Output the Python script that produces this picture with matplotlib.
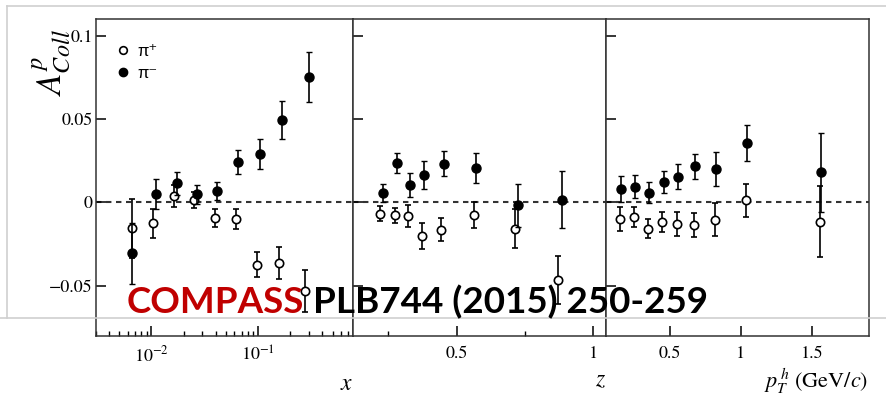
import numpy as np
import matplotlib.pyplot as plt
from matplotlib.lines import Line2D
from matplotlib.ticker import MultipleLocator, FixedLocator, FuncFormatter, NullLocator

plt.rcParams['font.family'] = 'STIXGeneral'
plt.rcParams['mathtext.fontset'] = 'stix'

# --- x binning ---
x_pip = [0.0065, 0.0104, 0.0161, 0.025, 0.0393, 0.0618, 0.0985, 0.158, 0.277]
a_pip_x = [-0.0156, -0.0126, 0.0038, 0.0014, -0.0094, -0.0102, -0.0374, -0.0362, -0.0532]
e_pip_x = [0.0176, 0.0085, 0.0064, 0.005, 0.0052, 0.006, 0.0076, 0.0097, 0.0127]
x_pim = [0.0066, 0.011, 0.0172, 0.0269, 0.041, 0.0644, 0.1035, 0.166, 0.297]
a_pim_x = [-0.0306, 0.0048, 0.0114, 0.0048, 0.0068, 0.0244, 0.029, 0.0492, 0.0752]
e_pim_x = [0.0184, 0.009, 0.007, 0.0056, 0.0056, 0.0072, 0.0088, 0.0114, 0.0152]

# --- z binning ---
z_pip = [0.22, 0.273, 0.323, 0.372, 0.443, 0.562, 0.712, 0.872]
a_pip_z = [-0.0068, -0.0078, -0.0084, -0.0204, -0.0164, -0.0074, -0.0158, -0.0466]
e_pip_z = [0.0045, 0.0045, 0.0066, 0.0078, 0.0068, 0.0078, 0.0115, 0.0146]
z_pim = [0.231, 0.282, 0.33, 0.381, 0.452, 0.571, 0.723, 0.884]
a_pim_z = [0.0054, 0.0236, 0.0104, 0.0162, 0.0232, 0.0206, -0.0018, 0.0016]
e_pim_z = [0.0054, 0.006, 0.0072, 0.0084, 0.0076, 0.0088, 0.013, 0.017]

# --- pT binning ---
pt_pip = [0.148, 0.247, 0.347, 0.446, 0.547, 0.669, 0.817, 1.035, 1.556]
a_pip_pt = [-0.0098, -0.009, -0.0158, -0.0118, -0.013, -0.0136, -0.0104, 0.0012, -0.0116]
e_pip_pt = [0.0072, 0.006, 0.0058, 0.006, 0.007, 0.007, 0.0098, 0.0098, 0.0214]
pt_pim = [0.155, 0.254, 0.354, 0.456, 0.556, 0.676, 0.824, 1.044, 1.566]
a_pim_pt = [0.008, 0.0094, 0.0058, 0.012, 0.0154, 0.0216, 0.020, 0.0356, 0.018]
e_pim_pt = [0.008, 0.0068, 0.0062, 0.0066, 0.0076, 0.0074, 0.0102, 0.0108, 0.0236]

W, H = 887, 415
fig = plt.figure(figsize=(W / 100, H / 100), dpi=100)

def fx(px):
    return px / W

def fy(py):
    return 1 - py / H

bottom, top = fy(336), fy(19)
ax1 = fig.add_axes([fx(95.7), bottom, fx(353.3 - 95.7), top - bottom])
ax2 = fig.add_axes([fx(353.3), bottom, fx(606 - 353.3), top - bottom])
ax3 = fig.add_axes([fx(606), bottom, fx(868.7 - 606), top - bottom])

def draw(ax, xp, ap, ep, xm, am, em):
    ax.axhline(0, color='#333333', lw=1.5, ls=(0, (2.6, 2.2)), zorder=1)
    ax.errorbar(xp, ap, yerr=ep, fmt='o', ms=6, mfc='white', mec='black', mew=1.2,
                ecolor='black', elinewidth=1.2, capsize=2, capthick=1, zorder=3)
    ax.errorbar(xm, am, yerr=em, fmt='o', ms=6.5, mfc='black', mec='black',
                ecolor='black', elinewidth=1.2, capsize=2, capthick=1, zorder=4)
    ax.set_ylim(-0.0802, 0.11)
    ax.yaxis.set_major_locator(FixedLocator([-0.05, 0, 0.05, 0.1]))
    ax.yaxis.set_minor_locator(NullLocator())
    ax.tick_params(axis='both', which='major', direction='in', length=7, width=1.1,
                   labelsize=13, top=False, right=False)
    ax.tick_params(axis='x', which='major', pad=7)
    ax.tick_params(axis='x', which='minor', direction='in', length=3.5, width=1)
    ax.tick_params(axis='y', pad=2)
    for s in ax.spines.values():
        s.set_linewidth(1.1)
        s.set_color('#333333')

draw(ax1, x_pip, a_pip_x, e_pip_x, x_pim, a_pim_x, e_pim_x)
draw(ax2, z_pip, a_pip_z, e_pip_z, z_pim, a_pim_z, e_pim_z)
draw(ax3, pt_pip, a_pip_pt, e_pip_pt, pt_pim, a_pim_pt, e_pim_pt)

fmt = FuncFormatter(lambda v, p: '0' if v == 0 else ('%g' % v).replace('-', '\u2212'))

ax1.set_xscale('log')
ax1.set_xlim(0.003, 0.78)
ax1.yaxis.set_major_formatter(fmt)

ax2.set_xlim(0.122, 1.046)
ax2.xaxis.set_major_locator(FixedLocator([0.5, 1.0]))
ax2.xaxis.set_minor_locator(FixedLocator([0.25, 0.75]))
ax2.xaxis.set_major_formatter(FuncFormatter(lambda v, p: '%g' % v))
ax2.set_yticklabels([])

ax3.set_xlim(0.05, 1.9)
ax3.xaxis.set_major_locator(FixedLocator([0.5, 1.0, 1.5]))
ax3.xaxis.set_minor_locator(NullLocator())
ax3.xaxis.set_major_formatter(FuncFormatter(lambda v, p: '%g' % v))
ax3.set_yticklabels([])

ax1.set_xlabel(r'$x$', fontsize=17, loc='right', labelpad=6)
ax2.set_xlabel(r'$z$', fontsize=17, loc='right', labelpad=6)
ax3.set_xlabel(r'$p_T^{\,h}$ (GeV/$c$)', fontsize=16, loc='right', labelpad=4)

fig.text(fx(51), fy(63), r'$A^{p}_{Coll}$', fontsize=25, rotation=90,
         ha='center', va='center')

# legend
leg_handles = [
    Line2D([], [], ls='none', marker='o', ms=5.5, mfc='white', mec='black', mew=1.2),
    Line2D([], [], ls='none', marker='o', ms=6, mfc='black', mec='black'),
]
ax1.legend(leg_handles, ['\u03c0\u207a', '\u03c0\u207b'], loc='upper left',
           frameon=False, prop={'family': ['Liberation Sans', 'DejaVu Sans'], 'size': 12},
           handlelength=0.8, handletextpad=0.5, labelspacing=0.45,
           bbox_to_anchor=(0.02, 0.97))

# slide decorations
line_c = '#cfcfcf'
fig.add_artist(Line2D([fx(7), 1], [fy(6), fy(6)], color=line_c, lw=1.2))
fig.add_artist(Line2D([fx(7), fx(7)], [fy(6), fy(318)], color=line_c, lw=1.2))
fig.add_artist(Line2D([0, 1], [fy(318), fy(318)], color=line_c, lw=1.2, zorder=10))

t1 = fig.text(fx(127), fy(313), 'COMPASS', color='#c00000', fontsize=26.5,
              fontweight='bold', family='Lato', va='baseline', zorder=11)
t2 = fig.text(0, 0, 'PLB744 (2015) 250-259', color='black', fontsize=26.5,
              fontweight='bold', family='Lato', va='baseline', zorder=11)
fig.canvas.draw()
bb = t1.get_window_extent()
t2.set_position(((bb.x1 + 9) / W, fy(313)))

fig.savefig('out.png', dpi=100)
